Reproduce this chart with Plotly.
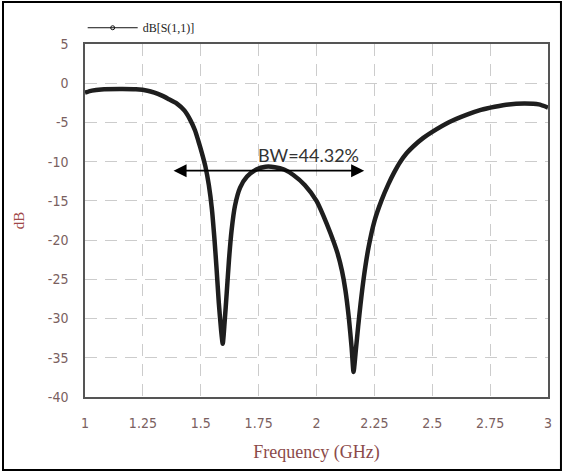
import plotly.graph_objects as go

# Frequency (GHz) and |S11| in dB
freq = [1.00, 1.03, 1.07, 1.15, 1.22, 1.27, 1.30, 1.33, 1.36, 1.397, 1.43, 1.455,
        1.475, 1.49, 1.505, 1.52, 1.535, 1.548, 1.559, 1.568, 1.578, 1.588,
        1.595, 1.603, 1.612, 1.622, 1.633, 1.648, 1.67, 1.70, 1.74, 1.78,
        1.82, 1.86, 1.90, 1.95, 2.00, 2.03, 2.06, 2.09, 2.11, 2.125, 2.14,
        2.152, 2.16, 2.17, 2.18, 2.19, 2.205, 2.225, 2.25, 2.28, 2.31, 2.335,
        2.36, 2.39, 2.42, 2.46, 2.50, 2.57, 2.65, 2.71, 2.77, 2.83, 2.90, 2.96, 3.00]
s11_db = [-1.2, -0.95, -0.8, -0.75, -0.78, -0.95, -1.2, -1.55, -2.0, -2.6, -3.5, -4.7,
          -6.0, -7.4, -8.9, -10.6, -13.0, -16.0, -19.8, -23.5, -28.0, -31.5,
          -33.2, -30.5, -26.8, -22.5, -18.8, -15.6, -13.3, -11.9, -11.0, -10.65,
          -10.7, -11.0, -11.7, -13.0, -15.0, -16.9, -19.1, -21.6, -23.9, -26.4, -30.0,
          -33.8, -36.8, -34.0, -31.0, -28.2, -24.6, -20.9, -17.6, -15.0, -12.9, -11.4,
          -10.1, -8.9, -8.0, -7.0, -6.2, -5.0, -4.0, -3.4, -3.0, -2.7, -2.6, -2.7, -3.1]

x_ticks = [1, 1.25, 1.5, 1.75, 2, 2.25, 2.5, 2.75, 3]
x_ticklabels = ["1", "1.25", "1.5", "1.75", "2", "2.25", "2.5", "2.75", "3"]
y_ticks = [5, 0, -5, -10, -15, -20, -25, -30, -35, -40]
y_ticklabels = ["5", "0", "-5", "-10", "-15", "-20", "-25", "-30", "-35", "-40"]

bw_start, bw_end, bw_level = 1.376, 2.206, -11.15
bw_label = "BW=44.32%"
series_name = "dB[S(1,1)]"

tick_font = dict(family="DejaVu Sans Condensed, Liberation Sans Narrow, DejaVu Sans",
                 size=14, color="#7a6060")
title_font = dict(family="Liberation Serif, DejaVu Serif, serif", size=18, color="#8b4a4a")

fig = go.Figure()
fig.add_trace(go.Scatter(
    x=freq, y=s11_db, mode="lines", showlegend=False,
    line=dict(color="#1e1e1e", width=4.5, shape="spline", smoothing=0.6),
))
# legend entry (thin line with small open marker, as in the reference)
fig.add_trace(go.Scatter(
    x=[None], y=[None], mode="lines+markers", name=series_name,
    line=dict(color="#111", width=1),
    marker=dict(symbol="circle-open", size=4, color="#111", line=dict(width=1)),
))

fig.add_annotation(
    x=bw_end, y=bw_level, ax=bw_start, ay=bw_level, xref="x", yref="y",
    axref="x", ayref="y", text="", showarrow=True, arrowside="end+start",
    arrowhead=2, arrowsize=1.45, arrowwidth=1.8, arrowcolor="black",
)
fig.add_annotation(
    x=(bw_start + bw_end) / 2 + 0.175, y=bw_level + 2.0, xref="x", yref="y",
    text=bw_label, showarrow=False,
    font=dict(family="Lato, Open Sans, sans-serif", size=18, color="#333333"),
)

# outer frame
fig.add_shape(type="rect", xref="paper", yref="paper",
              x0=-0.1771, x1=1.028, y0=-0.2068, y1=1.119,
              line=dict(color="black", width=2), layer="above")

grid = dict(showgrid=True, gridcolor="#cccccc", gridwidth=1, griddash="12px,8px",
            showline=True, linecolor="#555555", linewidth=1.5, mirror=True,
            zeroline=False, ticks="", tickfont=tick_font)

fig.update_xaxes(range=[1, 3], tickvals=x_ticks, ticktext=x_ticklabels,
                 title=dict(text="Frequency (GHz)", font=title_font, standoff=16),
                 ticklabelstandoff=12, **grid)
fig.update_yaxes(range=[-40, 5], tickvals=y_ticks, ticktext=y_ticklabels,
                 title=dict(text="dB", font=dict(family="Liberation Serif, DejaVu Serif, serif",
                                                 size=15, color="#a04848"), standoff=20),
                 ticklabelstandoff=12, **grid)

fig.update_layout(
    width=564, height=473,
    margin=dict(l=85, r=16, t=44, b=76),
    paper_bgcolor="white", plot_bgcolor="white",
    legend=dict(x=-0.005, y=1.005, xanchor="left", yanchor="bottom", orientation="h",
                bgcolor="rgba(0,0,0,0)", itemwidth=50,
                font=dict(family="Liberation Serif, DejaVu Serif, serif", size=12, color="#222")),
)

fig.write_html("out.html", config={"displayModeBar": False},
               post_script="document.body.style.margin='0';")
